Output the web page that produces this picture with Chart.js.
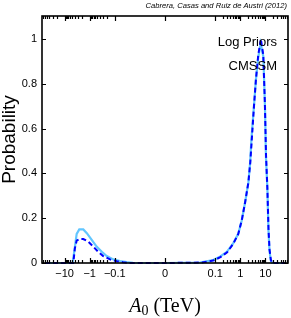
<!DOCTYPE html>
<html>
<head>
<meta charset="utf-8">
<script src="https://cdn.jsdelivr.net/npm/chart.js@4.4.0/dist/chart.umd.min.js"></script>
<style>
  html, body { margin: 0; padding: 0; background: #fff; }
</style>
</head>
<body>
<canvas id="chart" width="291" height="318"></canvas>
<script>
// A0 values (TeV) and probabilities
// light blue solid: marginal posterior
const a0Marg = [-60, -4.8, -3.9, -3.3, -2.6, -1.8, -1.3, -0.83, -0.53, -0.33, -0.21, -0.115, -0.062, -0.034, -0.019, 0,
  0.0245, 0.083, 0.155, 0.29, 0.52, 0.83, 1.14, 1.55, 2.1, 2.45, 2.8, 3.5, 4.2, 5.2, 6.5, 8.3, 9.6, 10.5, 12, 13.2, 14.5, 16.2, 18.3, 60];
const probMarg = [0, 0, 0.07, 0.13, 0.15, 0.15, 0.133, 0.103, 0.073, 0.05, 0.031, 0.016, 0.009, 0.004, 0.001, 0,
  0.002, 0.013, 0.028, 0.05, 0.088, 0.13, 0.19, 0.27, 0.36, 0.445, 0.56, 0.70, 0.82, 0.92, 0.98, 0.92, 0.70, 0.475, 0.33, 0.147, 0.058, 0.013, 0, 0];
// dark blue dashed: profile likelihood
const a0Prof = [-60, -4.5, -3.9, -3.3, -2.45, -1.8, -1.12, -0.72, -0.46, -0.29, -0.155, -0.083, -0.047, -0.024, 0,
  0.03, 0.09, 0.16, 0.3, 0.52, 0.83, 1.14, 1.55, 2.1, 2.5, 2.9, 3.5, 4.2, 5.2, 6.6, 8.2, 9.5, 10.6, 12, 13.3, 14.6, 16.5, 18.5, 60];
const probProf = [0, 0, 0.065, 0.10, 0.107, 0.107, 0.095, 0.073, 0.05, 0.031, 0.016, 0.008, 0.003, 0, 0,
  0.002, 0.012, 0.026, 0.048, 0.085, 0.13, 0.19, 0.27, 0.36, 0.45, 0.56, 0.70, 0.82, 0.93, 1.0, 0.93, 0.72, 0.48, 0.33, 0.15, 0.06, 0.015, 0, 0];

const xTickValues = [-10, -1, -0.1, 0, 0.1, 1, 10];
const xTickLabels = ['\u221210', '\u22121', '\u22120.1', '0', '0.1', '1', '10'];
const yTickValues = [0, 0.2, 0.4, 0.6, 0.8, 1];
const yTickLabels = ['0', '0.2', '0.4', '0.6', '0.8', '1'];

// log axis through zero: anything under 1 GeV sits on 0
function symlog(v) {
  const a = Math.abs(v);
  if (a < 0.001) return 0;
  return Math.sign(v) * (Math.log10(a) + 3);
}

// minor ticks 2..9 in each decade from 0.1 up to 100, both signs
const minorTicks = [];
[0.1, 1, 10].forEach(d => {
  for (let k = 2; k <= 9; k++) {
    minorTicks.push(k * d, -k * d);
  }
});

const SANS = 'Liberation Sans, Arial, Helvetica, sans-serif';
const SERIF = 'Liberation Serif, Times New Roman, serif';

const framePlugin = {
  id: 'frame',
  afterDraw(chart) {
    const ctx = chart.ctx;
    const a = chart.chartArea;
    const xs = chart.scales.x;
    const ys = chart.scales.y;
    ctx.save();
    ctx.strokeStyle = '#000';
    ctx.lineWidth = 1.2;

    // inward ticks, bottom and top
    const xTick = (v, len) => {
      const t = symlog(v);
      if (t < xs.min || t > xs.max) return;
      const px = Math.round(xs.getPixelForValue(t)) + 0.5;
      ctx.beginPath();
      ctx.moveTo(px, a.bottom); ctx.lineTo(px, a.bottom - len);
      ctx.moveTo(px, a.top); ctx.lineTo(px, a.top + len);
      ctx.stroke();
    };
    xTickValues.forEach(v => xTick(v, 5));
    minorTicks.forEach(v => xTick(v, 3));

    // inward ticks, left and right
    yTickValues.forEach(v => {
      const py = Math.round(ys.getPixelForValue(v)) + 0.5;
      ctx.beginPath();
      ctx.moveTo(a.left, py); ctx.lineTo(a.left + 4, py);
      ctx.moveTo(a.right, py); ctx.lineTo(a.right - 4, py);
      ctx.stroke();
    });

    // box
    ctx.lineWidth = 1.6;
    ctx.strokeRect(a.left, a.top, a.right - a.left, a.bottom - a.top);

    // labels inside the plot
    ctx.fillStyle = '#000';
    ctx.textAlign = 'right';
    ctx.textBaseline = 'alphabetic';
    ctx.font = '13px ' + SANS;
    ctx.fillText('Log Priors', 277, 46);
    ctx.fillText('CMSSM', 277, 70);

    // citation
    ctx.font = 'italic 7.6px ' + SANS;
    ctx.fillText('Cabrera, Casas and Ruiz de Austri (2012)', 287, 8);

    // x axis title: A_0 (TeV)
    const big = '20px ' + SERIF;
    const small = '14px ' + SERIF;
    ctx.font = 'italic ' + big;
    const wA = ctx.measureText('A').width;
    ctx.font = small;
    const w0 = ctx.measureText('0').width;
    ctx.font = big;
    const wT = ctx.measureText(' (TeV)').width;
    let x = (a.left + a.right) / 2 - (wA + w0 + wT) / 2;
    const base = 312;
    ctx.textAlign = 'left';
    ctx.font = 'italic ' + big;
    ctx.fillText('A', x, base);
    x += wA;
    ctx.font = small;
    ctx.fillText('0', x, base + 3);
    x += w0;
    ctx.font = big;
    ctx.fillText(' (TeV)', x, base);
    ctx.restore();
  }
};

new Chart(document.getElementById('chart'), {
  type: 'line',
  data: {
    datasets: [
      {
        label: 'Profile likelihood',
        data: a0Prof.map((v, i) => ({ x: symlog(v), y: probProf[i] })),
        borderColor: '#0000ff',
        borderWidth: 2,
        borderDash: [5, 3],
        pointRadius: 0,
        fill: false,
        tension: 0
      },
      {
        label: 'Marginal posterior',
        data: a0Marg.map((v, i) => ({ x: symlog(v), y: probMarg[i] })),
        borderColor: '#62c6ff',
        borderWidth: 2.2,
        pointRadius: 0,
        fill: false,
        tension: 0
      }
    ]
  },
  options: {
    responsive: false,
    animation: false,
    clip: 1,
    layout: { padding: { top: 16, right: 3, left: 0, bottom: 0 } },
    plugins: {
      legend: { display: false },
      tooltip: { enabled: false }
    },
    scales: {
      x: {
        type: 'linear',
        min: -4.9,
        max: 4.9,
        afterBuildTicks: s => { s.ticks = xTickValues.map(v => ({ value: symlog(v) })); },
        afterFit: s => { s.height = 55; },
        ticks: {
          autoSkip: false,
          maxRotation: 0,
          padding: 4,
          color: '#000',
          font: { family: SANS, size: 11 },
          callback: (val, i) => xTickLabels[i]
        },
        grid: { display: false, drawTicks: false },
        border: { display: false }
      },
      y: {
        min: 0,
        max: 1.103,
        afterBuildTicks: s => { s.ticks = yTickValues.map(v => ({ value: v })); },
        afterFit: s => { s.width = 42; },
        ticks: {
          padding: 5,
          color: '#000',
          font: { family: SANS, size: 11 },
          callback: (val, i) => yTickLabels[i]
        },
        grid: { display: false, drawTicks: false },
        border: { display: false },
        title: {
          display: true,
          text: 'Probability',
          color: '#000',
          font: { family: SANS, size: 19, lineHeight: 1 },
          padding: { top: 0, bottom: 0 }
        }
      }
    }
  },
  plugins: [framePlugin]
});
</script>
</body>
</html>
